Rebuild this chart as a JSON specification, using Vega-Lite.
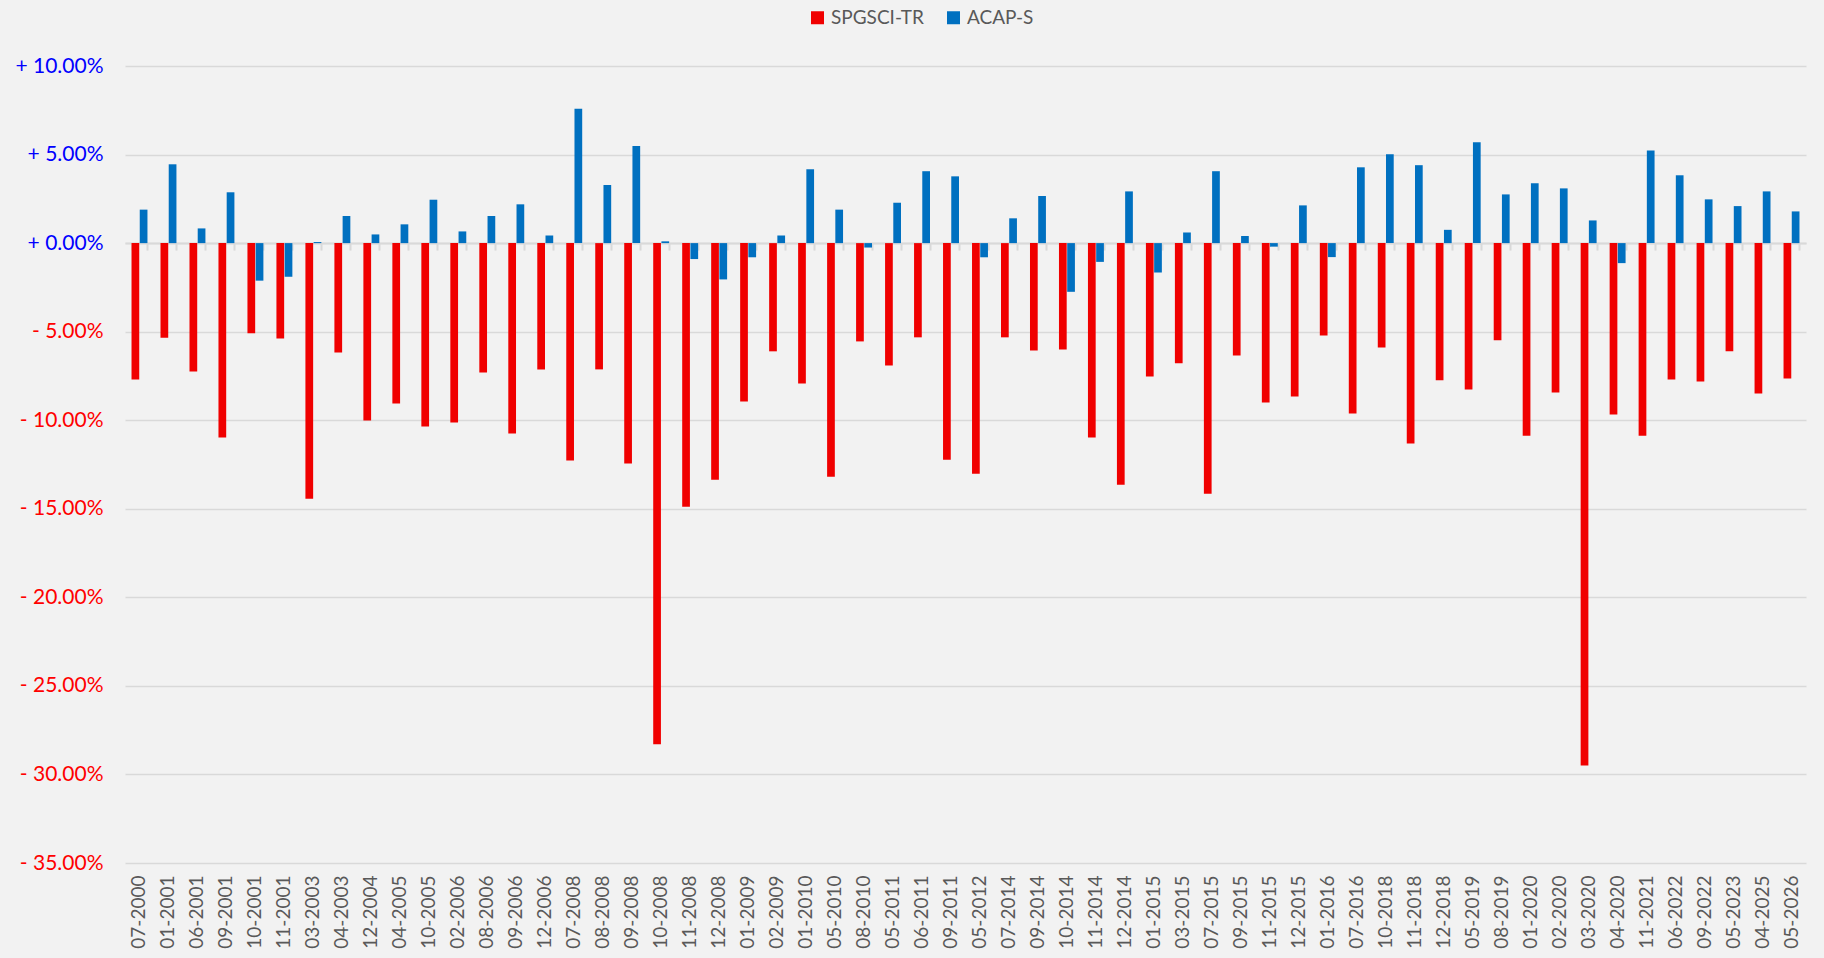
{
  "$schema": "https://vega.github.io/schema/vega-lite/v6.json",
  "width": 1681,
  "height": 797,
  "autosize": {"type": "none"},
  "padding": {"left": 125, "top": 66, "right": 18, "bottom": 95},
  "background": "#f2f2f2",
  "config": {"view": {"stroke": null}, "font": "Lato"},
  "data": {"values": [
    {"date":"07-2000","series":"SPGSCI-TR","value":-0.0770},{"date":"07-2000","series":"ACAP-S","value":0.0189},
    {"date":"01-2001","series":"SPGSCI-TR","value":-0.0534},{"date":"01-2001","series":"ACAP-S","value":0.0445},
    {"date":"06-2001","series":"SPGSCI-TR","value":-0.0725},{"date":"06-2001","series":"ACAP-S","value":0.0083},
    {"date":"09-2001","series":"SPGSCI-TR","value":-0.1098},{"date":"09-2001","series":"ACAP-S","value":0.0287},
    {"date":"10-2001","series":"SPGSCI-TR","value":-0.0509},{"date":"10-2001","series":"ACAP-S","value":-0.0212},
    {"date":"11-2001","series":"SPGSCI-TR","value":-0.0538},{"date":"11-2001","series":"ACAP-S","value":-0.0190},
    {"date":"03-2003","series":"SPGSCI-TR","value":-0.1443},{"date":"03-2003","series":"ACAP-S","value":0.0006},
    {"date":"04-2003","series":"SPGSCI-TR","value":-0.0617},{"date":"04-2003","series":"ACAP-S","value":0.0153},
    {"date":"12-2004","series":"SPGSCI-TR","value":-0.1002},{"date":"12-2004","series":"ACAP-S","value":0.0049},
    {"date":"04-2005","series":"SPGSCI-TR","value":-0.0906},{"date":"04-2005","series":"ACAP-S","value":0.0106},
    {"date":"10-2005","series":"SPGSCI-TR","value":-0.1036},{"date":"10-2005","series":"ACAP-S","value":0.0245},
    {"date":"02-2006","series":"SPGSCI-TR","value":-0.1013},{"date":"02-2006","series":"ACAP-S","value":0.0066},
    {"date":"08-2006","series":"SPGSCI-TR","value":-0.0730},{"date":"08-2006","series":"ACAP-S","value":0.0153},
    {"date":"09-2006","series":"SPGSCI-TR","value":-0.1075},{"date":"09-2006","series":"ACAP-S","value":0.0219},
    {"date":"12-2006","series":"SPGSCI-TR","value":-0.0713},{"date":"12-2006","series":"ACAP-S","value":0.0043},
    {"date":"07-2008","series":"SPGSCI-TR","value":-0.1228},{"date":"07-2008","series":"ACAP-S","value":0.0758},
    {"date":"08-2008","series":"SPGSCI-TR","value":-0.0713},{"date":"08-2008","series":"ACAP-S","value":0.0328},
    {"date":"09-2008","series":"SPGSCI-TR","value":-0.1245},{"date":"09-2008","series":"ACAP-S","value":0.0549},
    {"date":"10-2008","series":"SPGSCI-TR","value":-0.2830},{"date":"10-2008","series":"ACAP-S","value":0.0010},
    {"date":"11-2008","series":"SPGSCI-TR","value":-0.1489},{"date":"11-2008","series":"ACAP-S","value":-0.0090},
    {"date":"12-2008","series":"SPGSCI-TR","value":-0.1336},{"date":"12-2008","series":"ACAP-S","value":-0.0205},
    {"date":"01-2009","series":"SPGSCI-TR","value":-0.0894},{"date":"01-2009","series":"ACAP-S","value":-0.0080},
    {"date":"02-2009","series":"SPGSCI-TR","value":-0.0611},{"date":"02-2009","series":"ACAP-S","value":0.0043},
    {"date":"01-2010","series":"SPGSCI-TR","value":-0.0792},{"date":"01-2010","series":"ACAP-S","value":0.0417},
    {"date":"05-2010","series":"SPGSCI-TR","value":-0.1319},{"date":"05-2010","series":"ACAP-S","value":0.0189},
    {"date":"08-2010","series":"SPGSCI-TR","value":-0.0555},{"date":"08-2010","series":"ACAP-S","value":-0.0025},
    {"date":"05-2011","series":"SPGSCI-TR","value":-0.0691},{"date":"05-2011","series":"ACAP-S","value":0.0228},
    {"date":"06-2011","series":"SPGSCI-TR","value":-0.0532},{"date":"06-2011","series":"ACAP-S","value":0.0406},
    {"date":"09-2011","series":"SPGSCI-TR","value":-0.1223},{"date":"09-2011","series":"ACAP-S","value":0.0377},
    {"date":"05-2012","series":"SPGSCI-TR","value":-0.1302},{"date":"05-2012","series":"ACAP-S","value":-0.0080},
    {"date":"07-2014","series":"SPGSCI-TR","value":-0.0532},{"date":"07-2014","series":"ACAP-S","value":0.0140},
    {"date":"09-2014","series":"SPGSCI-TR","value":-0.0606},{"date":"09-2014","series":"ACAP-S","value":0.0266},
    {"date":"10-2014","series":"SPGSCI-TR","value":-0.0600},{"date":"10-2014","series":"ACAP-S","value":-0.0275},
    {"date":"11-2014","series":"SPGSCI-TR","value":-0.1098},{"date":"11-2014","series":"ACAP-S","value":-0.0106},
    {"date":"12-2014","series":"SPGSCI-TR","value":-0.1364},{"date":"12-2014","series":"ACAP-S","value":0.0292},
    {"date":"01-2015","series":"SPGSCI-TR","value":-0.0753},{"date":"01-2015","series":"ACAP-S","value":-0.0166},
    {"date":"03-2015","series":"SPGSCI-TR","value":-0.0679},{"date":"03-2015","series":"ACAP-S","value":0.0060},
    {"date":"07-2015","series":"SPGSCI-TR","value":-0.1415},{"date":"07-2015","series":"ACAP-S","value":0.0406},
    {"date":"09-2015","series":"SPGSCI-TR","value":-0.0634},{"date":"09-2015","series":"ACAP-S","value":0.0040},
    {"date":"11-2015","series":"SPGSCI-TR","value":-0.0900},{"date":"11-2015","series":"ACAP-S","value":-0.0020},
    {"date":"12-2015","series":"SPGSCI-TR","value":-0.0866},{"date":"12-2015","series":"ACAP-S","value":0.0213},
    {"date":"01-2016","series":"SPGSCI-TR","value":-0.0521},{"date":"01-2016","series":"ACAP-S","value":-0.0079},
    {"date":"07-2016","series":"SPGSCI-TR","value":-0.0962},{"date":"07-2016","series":"ACAP-S","value":0.0428},
    {"date":"10-2018","series":"SPGSCI-TR","value":-0.0589},{"date":"10-2018","series":"ACAP-S","value":0.0502},
    {"date":"11-2018","series":"SPGSCI-TR","value":-0.1132},{"date":"11-2018","series":"ACAP-S","value":0.0440},
    {"date":"12-2018","series":"SPGSCI-TR","value":-0.0775},{"date":"12-2018","series":"ACAP-S","value":0.0075},
    {"date":"05-2019","series":"SPGSCI-TR","value":-0.0826},{"date":"05-2019","series":"ACAP-S","value":0.0570},
    {"date":"08-2019","series":"SPGSCI-TR","value":-0.0549},{"date":"08-2019","series":"ACAP-S","value":0.0275},
    {"date":"01-2020","series":"SPGSCI-TR","value":-0.1087},{"date":"01-2020","series":"ACAP-S","value":0.0338},
    {"date":"02-2020","series":"SPGSCI-TR","value":-0.0843},{"date":"02-2020","series":"ACAP-S","value":0.0309},
    {"date":"03-2020","series":"SPGSCI-TR","value":-0.2949},{"date":"03-2020","series":"ACAP-S","value":0.0128},
    {"date":"04-2020","series":"SPGSCI-TR","value":-0.0968},{"date":"04-2020","series":"ACAP-S","value":-0.0113},
    {"date":"11-2021","series":"SPGSCI-TR","value":-0.1087},{"date":"11-2021","series":"ACAP-S","value":0.0523},
    {"date":"06-2022","series":"SPGSCI-TR","value":-0.0770},{"date":"06-2022","series":"ACAP-S","value":0.0383},
    {"date":"09-2022","series":"SPGSCI-TR","value":-0.0781},{"date":"09-2022","series":"ACAP-S","value":0.0247},
    {"date":"05-2023","series":"SPGSCI-TR","value":-0.0611},{"date":"05-2023","series":"ACAP-S","value":0.0209},
    {"date":"04-2025","series":"SPGSCI-TR","value":-0.0849},{"date":"04-2025","series":"ACAP-S","value":0.0292},
    {"date":"05-2026","series":"SPGSCI-TR","value":-0.0764},{"date":"05-2026","series":"ACAP-S","value":0.0179}
  ]},
  "resolve": {"axis": {"x": "independent"}},
  "layer": [
    {
      "mark": {"type": "bar"},
      "encoding": {
        "x": {
          "field": "date", "type": "nominal", "sort": null,
          "scale": {"paddingInner": 0.45, "paddingOuter": 0.225},
          "axis": {
            "orient": "bottom", "title": null, "labelAngle": -90, "labelFontSize": 19,
            "labelColor": "#595959", "labelPadding": 12, "ticks": false, "domain": false,
            "grid": false, "labelOverlap": false
          }
        },
        "xOffset": {
          "field": "series", "type": "nominal", "sort": ["SPGSCI-TR", "ACAP-S"],
          "scale": {"paddingInner": 0.06}
        },
        "y": {
          "field": "value", "type": "quantitative",
          "scale": {"domain": [-0.35, 0.1], "nice": false, "zero": true},
          "axis": {
            "title": null,
            "values": [-0.35, -0.3, -0.25, -0.2, -0.15, -0.1, -0.05, 0, 0.05, 0.1],
            "labelExpr": "datum.value >= 0 ? '+ ' + format(datum.value, '.2%') : '- ' + format(-datum.value, '.2%')",
            "labelColor": {"condition": {"test": "datum.value < 0", "value": "#FF0000"}, "value": "#0000FF"},
            "labelFontSize": 21, "labelPadding": 22, "ticks": false, "domain": false,
            "grid": true, "gridColor": "#d9d9d9", "gridWidth": 1.5
          }
        },
        "color": {
          "field": "series", "type": "nominal",
          "scale": {"domain": ["SPGSCI-TR", "ACAP-S"], "range": ["#F00000", "#0070C0"]},
          "legend": {
            "orient": "none", "legendX": 683, "legendY": -58, "direction": "horizontal",
            "title": null, "symbolType": "square", "symbolSize": 169, "symbolStrokeWidth": 0,
            "labelFontSize": 19, "labelColor": "#595959", "columnPadding": 20, "labelOffset": 4
          }
        }
      }
    },
    {
      "mark": {"type": "point", "opacity": 0},
      "encoding": {
        "x": {
          "field": "date", "type": "nominal", "sort": null,
          "axis": {
            "orient": "bottom", "offset": -619.9, "title": null, "labels": false,
            "ticks": true, "tickBand": "extent", "tickSize": 7, "tickColor": "#d9d9d9", "tickWidth": 2,
            "domain": true, "domainColor": "#d9d9d9", "domainWidth": 2, "grid": false
          }
        },
        "y": {"datum": 0, "type": "quantitative"}
      }
    }
  ]
}
